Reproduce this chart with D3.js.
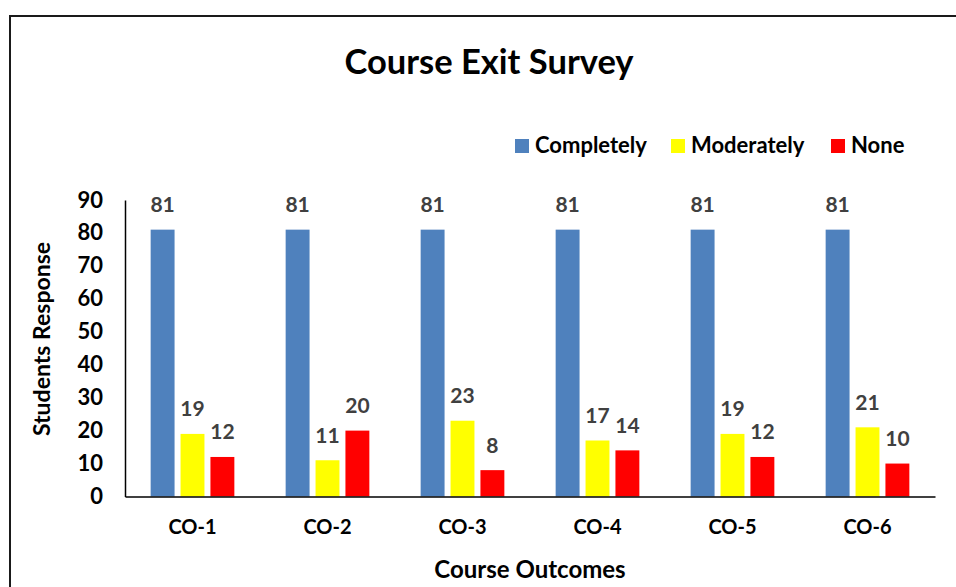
<!DOCTYPE html>
<html><head><meta charset="utf-8">
<script src="https://cdn.jsdelivr.net/npm/d3@7"></script>
<style>body{margin:0;background:#fff}svg{display:block;font-family:Lato,"Open Sans",sans-serif;font-weight:bold}</style>
</head><body><svg id="c" width="956" height="587"></svg>
<script>
const categories = ["CO-1","CO-2","CO-3","CO-4","CO-5","CO-6"];
const seriesNames = ["Completely","Moderately","None"];
const completely = [81,81,81,81,81,81];
const moderately = [19,11,23,17,19,21];
const none = [12,20,8,14,12,10];
const yTicks = [0,10,20,30,40,50,60,70,80,90];
const colors = ["#4F81BD","#FFFF00","#FF0000"];
const seriesValues = [completely, moderately, none];

const svg = d3.select("#c");
svg.append("rect").attr("x",10).attr("y",16).attr("width",960).attr("height",600)
  .attr("fill","#fff").attr("stroke","#1a1a1a").attr("stroke-width",2);

const L=125,R=935,T=200,B=496.5;
const x0 = d3.scaleBand().domain(categories).range([L,R]).paddingInner(0.38).paddingOuter(0.19);
const x1 = d3.scaleBand().domain(seriesNames).range([0,x0.bandwidth()]).paddingInner(0.2);
const y = d3.scaleLinear().domain([0,90]).range([B,T]);

// bars
categories.forEach((c,i)=>{
  const g = svg.append("g").attr("transform",`translate(${x0(c)},0)`);
  seriesNames.forEach((s,j)=>{
    const v = seriesValues[j][i];
    g.append("rect").attr("x",x1(s)).attr("y",y(v)).attr("width",x1.bandwidth()).attr("height",B-y(v)).attr("fill",colors[j]);
    g.append("text").attr("x",x1(s)+x1.bandwidth()/2).attr("y",y(v)-17.5).attr("text-anchor","middle")
      .attr("fill","#404040").attr("font-size",21).text(v);
  });
});

// y axis
const ya = svg.append("g").attr("transform",`translate(${L},0)`).call(d3.axisLeft(y).tickValues(yTicks).tickSize(0).tickPadding(22));
ya.select(".domain").attr("stroke","#000").attr("stroke-width",1.5);
ya.selectAll("text").attr("font-size",22).attr("fill","#000").attr("font-family","Lato,sans-serif").attr("font-weight","bold");

// x axis
const xa = svg.append("g").attr("transform",`translate(0,${B})`).call(d3.axisBottom(x0).tickSize(0).tickPadding(23));
xa.select(".domain").attr("stroke","#000").attr("stroke-width",1.5);
xa.selectAll("text").attr("font-size",20).attr("fill","#000").attr("font-family","Lato,sans-serif").attr("font-weight","bold");

// titles
svg.append("text").attr("x",489).attr("y",74).attr("text-anchor","middle").attr("font-size",34.5).attr("fill","#000").text("Course Exit Survey");
svg.append("text").attr("x",530).attr("y",578).attr("text-anchor","middle").attr("font-size",24).attr("fill","#000").text("Course Outcomes");
svg.append("text").attr("transform","translate(50,339) rotate(-90)").attr("text-anchor","middle").attr("font-size",23).attr("fill","#000").text("Students Response");

// legend
const legX = [515,671,831];
seriesNames.forEach((s,j)=>{
  svg.append("rect").attr("x",legX[j]).attr("y",139).attr("width",14).attr("height",14).attr("fill",colors[j]);
  svg.append("text").attr("x",legX[j]+20).attr("y",153).attr("font-size",22).attr("fill","#000").text(s);
});
</script></body></html>
